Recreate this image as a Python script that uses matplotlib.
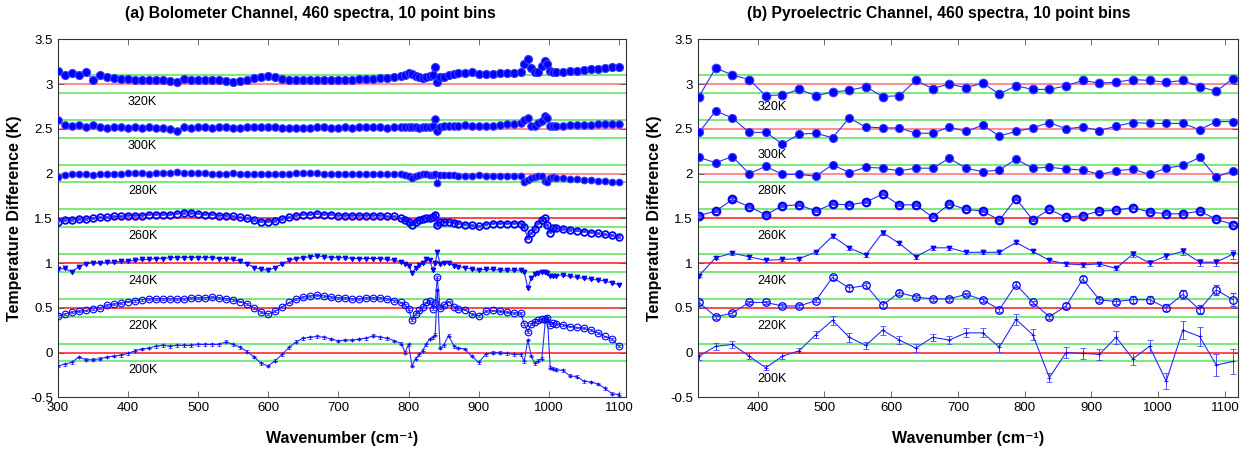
import matplotlib
matplotlib.use('Agg')
import matplotlib.pyplot as plt

plt.rcParams['font.family'] = ['Liberation Sans', 'DejaVu Sans']

temps = ['320K', '300K', '280K', '260K', '240K', '220K', '200K']
offsets = [3.0, 2.5, 2.0, 1.5, 1.0, 0.5, 0.0]
label_y_a = [2.80, 2.31, 1.80, 1.30, 0.80, 0.30, -0.19]
label_y_b = [2.74, 2.21, 1.80, 1.30, 0.80, 0.30, -0.30]

# (a) bolometer channel, offset temperature differences
bolo_wn = [300, 310, 320, 330, 340, 350, 360, 370, 380, 390,
           400, 410, 420, 430, 440, 450, 460, 470, 480, 490,
           500, 510, 520, 530, 540, 550, 560, 570, 580, 590,
           600, 610, 620, 630, 640, 650, 660, 670, 680, 690,
           700, 710, 720, 730, 740, 750, 760, 770, 780, 790,
           795, 800, 805, 810, 815, 820, 825, 830, 835, 838,
           841, 845, 850, 857, 865, 870, 880, 890, 900, 910,
           920, 930, 940, 950, 960, 965, 970, 975, 980, 985,
           990, 995, 998, 1002, 1006, 1010, 1020, 1030, 1040, 1050,
           1060, 1070, 1080, 1090, 1100]

bolo_320 = [3.15, 3.10, 3.12, 3.10, 3.13, 3.05, 3.10, 3.08, 3.07, 3.06,
            3.06, 3.05, 3.04, 3.04, 3.04, 3.04, 3.03, 3.02, 3.06, 3.04,
            3.04, 3.04, 3.04, 3.04, 3.03, 3.02, 3.03, 3.05, 3.07, 3.08,
            3.09, 3.08, 3.06, 3.05, 3.04, 3.04, 3.04, 3.04, 3.04, 3.04,
            3.05, 3.05, 3.05, 3.06, 3.06, 3.06, 3.07, 3.07, 3.08, 3.09,
            3.10, 3.12, 3.11, 3.09, 3.08, 3.07, 3.08, 3.09, 3.10, 3.19,
            3.02, 3.08, 3.08, 3.10, 3.11, 3.12, 3.12, 3.13, 3.11, 3.11,
            3.11, 3.12, 3.12, 3.12, 3.14, 3.22, 3.28, 3.18, 3.14, 3.13,
            3.20, 3.26, 3.22, 3.15, 3.14, 3.14, 3.14, 3.15, 3.15, 3.16,
            3.17, 3.17, 3.18, 3.19, 3.19]

bolo_300 = [2.60, 2.54, 2.53, 2.54, 2.52, 2.54, 2.52, 2.51, 2.52, 2.52,
            2.51, 2.52, 2.51, 2.52, 2.51, 2.51, 2.50, 2.48, 2.52, 2.51,
            2.52, 2.52, 2.51, 2.52, 2.52, 2.51, 2.51, 2.52, 2.52, 2.52,
            2.52, 2.52, 2.51, 2.51, 2.51, 2.51, 2.51, 2.52, 2.52, 2.51,
            2.51, 2.52, 2.51, 2.52, 2.52, 2.52, 2.52, 2.51, 2.52, 2.52,
            2.52, 2.52, 2.52, 2.52, 2.51, 2.52, 2.52, 2.52, 2.53, 2.61,
            2.47, 2.52, 2.53, 2.53, 2.53, 2.53, 2.54, 2.53, 2.53, 2.53,
            2.53, 2.54, 2.55, 2.55, 2.57, 2.60, 2.62, 2.53, 2.53, 2.56,
            2.59, 2.64, 2.62, 2.53, 2.53, 2.53, 2.53, 2.54, 2.54, 2.54,
            2.54, 2.55, 2.55, 2.55, 2.55]

bolo_280 = [1.96, 1.98, 1.99, 1.99, 1.99, 1.98, 2.00, 2.00, 2.00, 2.00,
            2.01, 2.01, 2.01, 2.00, 2.01, 2.01, 2.01, 2.02, 2.01, 2.01,
            2.01, 2.01, 2.00, 2.00, 2.00, 2.01, 2.00, 1.99, 1.99, 1.99,
            1.99, 1.99, 1.99, 2.00, 2.01, 2.01, 2.01, 2.01, 2.00, 2.00,
            2.00, 2.00, 2.00, 2.00, 2.00, 2.00, 2.00, 1.99, 1.99, 1.99,
            1.98, 1.97, 1.95, 1.97, 1.98, 1.99, 1.99, 1.98, 1.98, 2.00,
            1.89, 1.98, 1.98, 1.98, 1.98, 1.97, 1.97, 1.97, 1.98, 1.97,
            1.97, 1.97, 1.97, 1.97, 1.97, 1.91, 1.93, 1.95, 1.96, 1.97,
            1.97, 1.92, 1.90, 1.95, 1.96, 1.95, 1.95, 1.94, 1.94, 1.93,
            1.93, 1.92, 1.92, 1.91, 1.91]

bolo_260 = [1.46, 1.48, 1.48, 1.49, 1.49, 1.50, 1.51, 1.51, 1.52, 1.52,
            1.53, 1.53, 1.53, 1.54, 1.54, 1.54, 1.54, 1.55, 1.56, 1.56,
            1.55, 1.54, 1.54, 1.53, 1.53, 1.52, 1.51, 1.50, 1.48, 1.46,
            1.46, 1.47, 1.49, 1.51, 1.53, 1.54, 1.54, 1.55, 1.54, 1.54,
            1.53, 1.53, 1.53, 1.53, 1.53, 1.53, 1.53, 1.52, 1.52, 1.50,
            1.48, 1.46, 1.43, 1.46, 1.48, 1.49, 1.50, 1.50, 1.51, 1.54,
            1.42, 1.46, 1.46, 1.46, 1.45, 1.44, 1.43, 1.42, 1.41, 1.43,
            1.44, 1.44, 1.44, 1.44, 1.44, 1.40, 1.27, 1.33, 1.38, 1.44,
            1.48, 1.50, 1.42, 1.34, 1.39, 1.39, 1.38, 1.37, 1.36, 1.35,
            1.34, 1.33, 1.32, 1.31, 1.29]

bolo_240 = [0.93, 0.94, 0.90, 0.96, 0.99, 1.00, 1.00, 1.01, 1.01, 1.02,
            1.02, 1.03, 1.04, 1.04, 1.05, 1.05, 1.06, 1.06, 1.06, 1.06,
            1.06, 1.06, 1.06, 1.05, 1.05, 1.04, 1.02, 0.99, 0.95, 0.93,
            0.92, 0.95, 0.99, 1.03, 1.05, 1.06, 1.07, 1.08, 1.07, 1.06,
            1.06, 1.06, 1.05, 1.05, 1.05, 1.05, 1.05, 1.04, 1.03, 1.01,
            0.99, 0.97, 0.89, 0.94, 0.98, 1.00, 1.04, 1.03, 0.92, 1.00,
            1.12, 0.99, 1.00, 1.00, 0.97, 0.96, 0.95, 0.93, 0.92, 0.93,
            0.93, 0.92, 0.92, 0.92, 0.92, 0.90, 0.72, 0.83, 0.88, 0.89,
            0.90, 0.90, 0.89, 0.86, 0.85, 0.86, 0.87, 0.85, 0.84, 0.83,
            0.82, 0.81, 0.80, 0.78, 0.76]

bolo_220 = [0.41, 0.43, 0.45, 0.46, 0.47, 0.49, 0.50, 0.53, 0.54, 0.55,
            0.57, 0.58, 0.59, 0.60, 0.60, 0.60, 0.60, 0.60, 0.60, 0.61,
            0.61, 0.61, 0.62, 0.61, 0.60, 0.59, 0.57, 0.54, 0.50, 0.45,
            0.43, 0.46, 0.51, 0.56, 0.60, 0.62, 0.63, 0.64, 0.63, 0.62,
            0.61, 0.61, 0.60, 0.60, 0.61, 0.61, 0.61, 0.60, 0.58, 0.56,
            0.53, 0.49, 0.36, 0.43, 0.47, 0.51, 0.56, 0.58, 0.49, 0.55,
            0.84, 0.50, 0.53, 0.57, 0.51, 0.49, 0.48, 0.43, 0.41, 0.46,
            0.47, 0.46, 0.45, 0.44, 0.44, 0.32, 0.23, 0.32, 0.34, 0.36,
            0.37, 0.38, 0.39, 0.31, 0.33, 0.32, 0.31, 0.29, 0.28, 0.27,
            0.25, 0.22, 0.18, 0.15, 0.07]

bolo_200 = [-0.15, -0.13, -0.11, -0.05, -0.08, -0.08, -0.07, -0.05, -0.04, -0.03,
            -0.01, 0.02, 0.04, 0.05, 0.07, 0.08, 0.07, 0.08, 0.08, 0.08,
            0.09, 0.09, 0.09, 0.09, 0.12, 0.09, 0.06, 0.01, -0.05, -0.12,
            -0.15, -0.09, -0.02, 0.06, 0.12, 0.16, 0.17, 0.18, 0.17, 0.15,
            0.13, 0.14, 0.14, 0.15, 0.16, 0.19, 0.17, 0.16, 0.13, 0.10,
            0.00, 0.09, -0.15, -0.07, -0.02, 0.02, 0.09, 0.15, 0.17, 0.20,
            0.70, 0.05, 0.08, 0.19, 0.07, 0.05, 0.04, -0.04, -0.11, -0.02,
            0.00, 0.00, -0.01, -0.02, -0.02, -0.10, 0.14, -0.04, -0.12, -0.09,
            -0.07, 0.35, 0.38, -0.17, -0.18, -0.19, -0.20, -0.26, -0.27, -0.32,
            -0.33, -0.35, -0.40, -0.46, -0.47]

bolo_err = [0.005, 0.005, 0.006, 0.007, 0.010, 0.010, 0.015]

# (b) pyroelectric channel
pyro_wn = [312, 337, 362, 387, 412, 437, 462, 487, 512, 537, 562,
           587, 612, 637, 662, 687, 712, 737, 762, 787, 812, 837,
           862, 887, 912, 937, 962, 987, 1012, 1037, 1062, 1087, 1112]

pyro_320 = [2.86, 3.18, 3.10, 3.05, 2.87, 2.88, 2.94, 2.87, 2.91, 2.93, 2.97,
            2.86, 2.87, 3.04, 2.95, 3.00, 2.96, 3.01, 2.89, 2.98, 2.94, 2.94,
            2.98, 3.04, 3.01, 3.02, 3.05, 3.04, 3.02, 3.04, 2.97, 2.92, 3.06]
pyro_300 = [2.46, 2.70, 2.62, 2.46, 2.46, 2.33, 2.44, 2.45, 2.40, 2.62, 2.52,
            2.51, 2.51, 2.45, 2.45, 2.52, 2.47, 2.54, 2.42, 2.47, 2.51, 2.57,
            2.50, 2.52, 2.48, 2.53, 2.57, 2.56, 2.56, 2.56, 2.49, 2.58, 2.58]
pyro_280 = [2.18, 2.12, 2.19, 2.00, 2.08, 1.99, 1.99, 1.97, 2.10, 2.01, 2.07,
            2.06, 2.03, 2.06, 2.06, 2.17, 2.06, 2.02, 2.04, 2.16, 2.06, 2.07,
            2.05, 2.04, 1.99, 2.03, 2.05, 1.99, 2.06, 2.09, 2.18, 1.96, 2.03]
pyro_260 = [1.53, 1.58, 1.71, 1.63, 1.54, 1.64, 1.65, 1.58, 1.66, 1.65, 1.68,
            1.77, 1.65, 1.65, 1.51, 1.66, 1.60, 1.58, 1.48, 1.72, 1.48, 1.60,
            1.51, 1.53, 1.58, 1.59, 1.62, 1.57, 1.55, 1.55, 1.58, 1.49, 1.43]
pyro_240 = [0.86, 1.06, 1.11, 1.07, 1.03, 1.04, 1.05, 1.12, 1.30, 1.17, 1.09,
            1.34, 1.22, 1.07, 1.17, 1.17, 1.12, 1.12, 1.12, 1.23, 1.13, 1.03,
            0.99, 0.98, 0.99, 0.94, 1.10, 1.00, 1.08, 1.13, 1.01, 1.01, 1.10]
pyro_220 = [0.56, 0.40, 0.44, 0.56, 0.56, 0.52, 0.52, 0.58, 0.84, 0.72, 0.75,
            0.53, 0.67, 0.62, 0.60, 0.60, 0.65, 0.59, 0.48, 0.76, 0.56, 0.40,
            0.52, 0.82, 0.59, 0.57, 0.59, 0.59, 0.50, 0.65, 0.48, 0.70, 0.59]
pyro_200 = [-0.04, 0.07, 0.09, -0.04, -0.17, -0.04, 0.02, 0.20, 0.36, 0.17, 0.08,
            0.25, 0.14, 0.05, 0.17, 0.14, 0.22, 0.22, 0.06, 0.37, 0.20, -0.28,
            0.00, -0.01, -0.02, 0.17, -0.07, 0.07, -0.32, 0.25, 0.18, -0.14, -0.10]

pyro_err_240 = [0.02, 0.02, 0.02, 0.02, 0.02, 0.02, 0.02, 0.02, 0.02, 0.02, 0.02,
                0.03, 0.02, 0.02, 0.02, 0.02, 0.02, 0.02, 0.02, 0.02, 0.02, 0.02,
                0.02, 0.02, 0.02, 0.02, 0.03, 0.03, 0.03, 0.04, 0.04, 0.04, 0.05]
pyro_err_220 = [0.03, 0.02, 0.02, 0.02, 0.02, 0.02, 0.02, 0.02, 0.03, 0.03, 0.03,
                0.03, 0.03, 0.02, 0.02, 0.02, 0.02, 0.02, 0.03, 0.03, 0.02, 0.02,
                0.03, 0.03, 0.03, 0.03, 0.04, 0.04, 0.04, 0.05, 0.05, 0.06, 0.07]
pyro_err_200 = [0.04, 0.04, 0.04, 0.03, 0.03, 0.03, 0.03, 0.04, 0.05, 0.05, 0.04,
                0.05, 0.04, 0.04, 0.04, 0.04, 0.05, 0.05, 0.05, 0.06, 0.06, 0.05,
                0.06, 0.06, 0.06, 0.07, 0.07, 0.07, 0.09, 0.10, 0.11, 0.12, 0.14]
pyro_err_hi = 0.012

BLUE = '#0000ff'
LINE = '#2a2aff'
ECOL = '#4b4bff'

styles = [
    dict(marker='o', mfc=BLUE, mec='#3c3cff'),
    dict(marker='o', mfc=BLUE, mec='#3c3cff'),
    dict(marker='o', mfc=BLUE, mec='#3c3cff'),
    dict(marker='o', mfc='none', mec=BLUE),
    dict(marker='v', mfc=BLUE, mec=BLUE),
    dict(marker='o', mfc='none', mec=BLUE),
    dict(marker='+', mfc=BLUE, mec=BLUE),
]
ms_a = [5.8, 5.4, 4.8, 4.8, 3.5, 4.8, 3]
mew_a = [0.8, 0.8, 0.8, 1.3, 0.6, 0.8, 0.6]
ms_b = [6.2, 5.8, 5.8, 5.4, 3.5, 5.4, 3]
mew_b = [0.8, 0.8, 0.8, 1.6, 0.6, 0.9, 0.6]


def setup_axes(ax, xlim, xticks, title):
    for off in offsets:
        red = '#ff7878' if off >= 2 else '#ff2a2a'
        ax.axhline(off, color=red, lw=1.2, zorder=1)
        ax.axhline(off + 0.1, color='#6fe86f', lw=1.3, zorder=1)
        ax.axhline(off - 0.1, color='#6fe86f', lw=1.3, zorder=1)
    ax.set_xlim(*xlim)
    ax.set_ylim(-0.5, 3.5)
    ax.set_xticks(xticks)
    ax.set_yticks([-0.5, 0, 0.5, 1, 1.5, 2, 2.5, 3, 3.5])
    ax.set_yticklabels(['-0.5', '0', '0.5', '1', '1.5', '2', '2.5', '3', '3.5'])
    ax.tick_params(direction='in', top=True, right=True, labelsize=9.5,
                   length=4, width=0.6, color='#555555')
    for s in ax.spines.values():
        s.set_color('#333333')
        s.set_linewidth(0.8)
    ax.set_xlabel('Wavenumber (cm⁻¹)', fontsize=11.5, fontweight='bold', labelpad=12)
    ax.set_ylabel('Temperature Difference (K)', fontsize=11.5, fontweight='bold', labelpad=6)
    ax.set_title(title, fontsize=11.3, fontweight='bold', pad=15, x=0.445)


fig = plt.figure(figsize=(12.47, 4.51), dpi=100)
ax_a = fig.add_axes([0.0463, 0.1191, 0.4557, 0.7938])
ax_b = fig.add_axes([0.5595, 0.1191, 0.4335, 0.7938])

setup_axes(ax_a, (300, 1110), [300, 400, 500, 600, 700, 800, 900, 1000, 1100],
           '(a) Bolometer Channel, 460 spectra, 10 point bins')
setup_axes(ax_b, (310, 1120), [400, 500, 600, 700, 800, 900, 1000, 1100],
           '(b) Pyroelectric Channel, 460 spectra, 10 point bins')

bolo_vals = [bolo_320, bolo_300, bolo_280, bolo_260, bolo_240, bolo_220, bolo_200]
for i, vals in enumerate(bolo_vals):
    ax_a.errorbar(bolo_wn, vals, yerr=bolo_err[i], color=LINE, lw=0.8,
                  ecolor=ECOL, elinewidth=0.7, capsize=1.5, ms=ms_a[i],
                  mew=mew_a[i], zorder=3, **styles[i])
    ax_a.text(400, label_y_a[i], temps[i], fontsize=9, va='center', zorder=4)

pyro_vals = [pyro_320, pyro_300, pyro_280, pyro_260, pyro_240, pyro_220, pyro_200]
pyro_errs = [pyro_err_hi, pyro_err_hi, pyro_err_hi, pyro_err_hi,
             pyro_err_240, pyro_err_220, pyro_err_200]
for i, vals in enumerate(pyro_vals):
    ax_b.errorbar(pyro_wn, vals, yerr=pyro_errs[i], color=LINE, lw=0.8,
                  ecolor=ECOL, elinewidth=0.7, capsize=2.5, ms=ms_b[i],
                  mew=mew_b[i], zorder=3, **styles[i])
    ax_b.text(400, label_y_b[i], temps[i], fontsize=9, va='center', zorder=4)

fig.savefig('out.png', dpi=100)
